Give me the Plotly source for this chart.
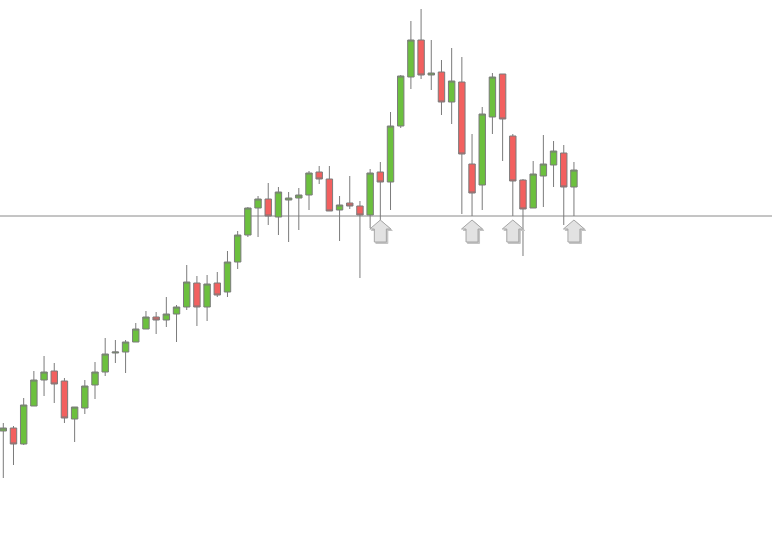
import plotly.graph_objects as go

# OHLC values (price units)
opens = [114, 117, 101, 139, 165, 174, 164, 126, 137, 160, 173, 192, 193, 203, 216, 228, 225, 231, 238, 262,
         238, 262, 253, 283, 310, 337, 346, 328, 345, 347, 350, 373, 366, 335, 342, 339, 330, 373, 363, 419,
         468, 505, 470, 473, 443, 463, 381, 360, 428, 471, 409, 365, 337, 369, 380, 392, 358]
highs = [122, 119, 147, 174, 189, 182, 167, 138, 165, 183, 207, 205, 205, 222, 234, 233, 248, 240, 280, 269,
         270, 273, 294, 314, 338, 349, 362, 358, 353, 357, 374, 379, 379, 349, 369, 344, 376, 383, 433, 470,
         524, 536, 505, 485, 497, 488, 411, 438, 472, 471, 411, 366, 384, 410, 404, 400, 383]
lows = [67, 80, 100, 139, 149, 142, 122, 103, 131, 146, 169, 182, 172, 203, 216, 211, 218, 203, 235, 219,
        224, 248, 248, 276, 308, 308, 320, 310, 303, 315, 335, 361, 334, 304, 336, 267, 317, 324, 335, 417,
        456, 466, 455, 430, 421, 331, 329, 335, 411, 384, 329, 289, 337, 338, 358, 320, 329]
closes = [117, 101, 140, 165, 173, 161, 127, 138, 159, 173, 191, 193, 203, 216, 228, 225, 231, 238, 263, 238,
          261, 250, 283, 310, 337, 346, 329, 353, 347, 350, 372, 366, 334, 340, 339, 330, 372, 363, 419, 469,
          505, 470, 472, 443, 464, 391, 352, 431, 468, 426, 364, 336, 371, 381, 394, 358, 375]
level = 329
arrow_idx = [37, 46, 50, 56]

x = list(range(len(opens)))

W, H = 772, 545
px0, dx_px = 3.3, 10.19
x0 = -px0 / dx_px
x1 = x0 + W / dx_px
ux = 1.0 / dx_px   # data units per pixel along x
uy = 1.0           # data units per pixel along y

GREEN = "#6cc03e"
RED = "#f2605f"
EDGE = "#7b7b7b"

fig = go.Figure()
fig.add_trace(go.Candlestick(
    x=x, open=opens, high=highs, low=lows, close=closes,
    increasing=dict(fillcolor=GREEN, line=dict(color=EDGE, width=1)),
    decreasing=dict(fillcolor=RED, line=dict(color=EDGE, width=1)),
    whiskerwidth=0, hoverinfo="skip", showlegend=False,
))

shapes = [dict(type="line", xref="paper", x0=0, x1=1, yref="y", y0=level, y1=level,
               line=dict(color="#8a8a8a", width=1), layer="below")]


def arrow_path(cx, top, sx=0.0, sy=0.0):
    tip = top - 4 * uy
    base = top - 13 * uy
    bottom = top - 26 * uy
    hw = 10.5 * ux
    sw = 6 * ux
    pts = [(cx, tip), (cx + hw, base), (cx + sw, base), (cx + sw, bottom),
           (cx - sw, bottom), (cx - sw, base), (cx - hw, base)]
    pts = [(px + sx * ux, py - sy * uy) for px, py in pts]
    return "M " + " L ".join(f"{px:.4f},{py:.4f}" for px, py in pts) + " Z"


for i in arrow_idx:
    shapes.append(dict(type="path", xref="x", yref="y", path=arrow_path(i, level, 1.5, 1.5),
                       fillcolor="#c4c4c4", line=dict(color="#c4c4c4", width=1), layer="above"))
    shapes.append(dict(type="path", xref="x", yref="y", path=arrow_path(i, level),
                       fillcolor="#e2e2e2", line=dict(color="#a6a6a6", width=1), layer="above"))

fig.update_layout(
    width=W, height=H,
    margin=dict(l=0, r=0, t=0, b=0),
    paper_bgcolor="white", plot_bgcolor="white",
    boxgap=0.37, boxgroupgap=0,
    shapes=shapes,
    xaxis=dict(range=[x0, x1], visible=False, rangeslider=dict(visible=False), fixedrange=True),
    yaxis=dict(range=[0, H], visible=False, fixedrange=True),
)

fig.write_html("out.html", config={"displayModeBar": False},
               post_script="document.body.style.margin='0';document.body.style.overflow='hidden';")
